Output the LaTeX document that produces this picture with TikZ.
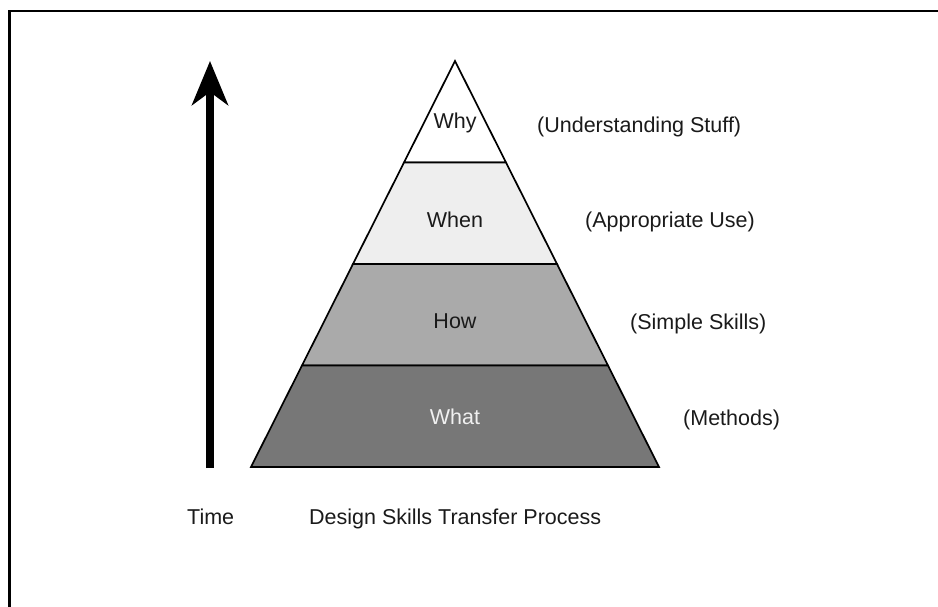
\documentclass[tikz,border=0pt]{standalone}
\usepackage{fontspec}
\setmainfont{Liberation Sans}
\usetikzlibrary{arrows.meta}
\definecolor{bandA}{HTML}{FFFFFF}
\definecolor{bandB}{HTML}{EEEEEE}
\definecolor{bandC}{HTML}{AAAAAA}
\definecolor{bandD}{HTML}{777777}
\definecolor{inkdark}{HTML}{1A1A1A}
\tikzset{
  lbl/.style={font=\fontsize{21.5}{26}\selectfont, text=inkdark, inner sep=0pt, anchor=base},
  sidelbl/.style={lbl, anchor=base west},
  band/.style={draw=black, line width=1.7pt, line join=miter},
  timearrow/.style={line width=7.5pt, -{Stealth[length=44pt, width=36pt, inset=13pt]}},
  frame/.style={draw=black, line width=2.2pt}
}
\begin{document}
\begin{tikzpicture}[x=1pt, y=-1pt]
\useasboundingbox (0,0) rectangle (938,607);
\begin{scope}
  \clip (0,0) rectangle (938,607);
  \draw[frame] (9.5,11) rectangle (960,630);
\end{scope}
% pyramid bands
\draw[band, fill=bandA] (455,61) -- (506,162.5) -- (404,162.5) -- cycle;
\draw[band, fill=bandB] (404,162.5) -- (506,162.5) -- (557,264) -- (353,264) -- cycle;
\draw[band, fill=bandC] (353,264) -- (557,264) -- (608,365.5) -- (302,365.5) -- cycle;
\draw[band, fill=bandD] (302,365.5) -- (608,365.5) -- (659,467) -- (251,467) -- cycle;
% band labels
\node[lbl] (why)  at (455,129) {Why};
\node[lbl] (when) at (455,228) {When};
\node[lbl] (how)  at (455,328) {How};
\node[lbl, text=white!94!black] (what) at (455,424) {What};
% side labels
\node[sidelbl] (under) at (537,133) {(Understanding Stuff)};
\node[sidelbl] (appro) at (585,228) {(Appropriate Use)};
\node[sidelbl] (simple) at (630,329) {(Simple Skills)};
\node[sidelbl] (methods) at (683,425) {(Methods)};
% time arrow
\coordinate (tbottom) at (210,468);
\coordinate (ttop) at (210,61);
\draw[timearrow] (tbottom) -- (ttop);
% bottom captions
\node[lbl, anchor=base west] (time) at (187,524) {Time};
\node[lbl, anchor=base west] (caption) at (309,524) {Design Skills Transfer Process};
\end{tikzpicture}
\end{document}
